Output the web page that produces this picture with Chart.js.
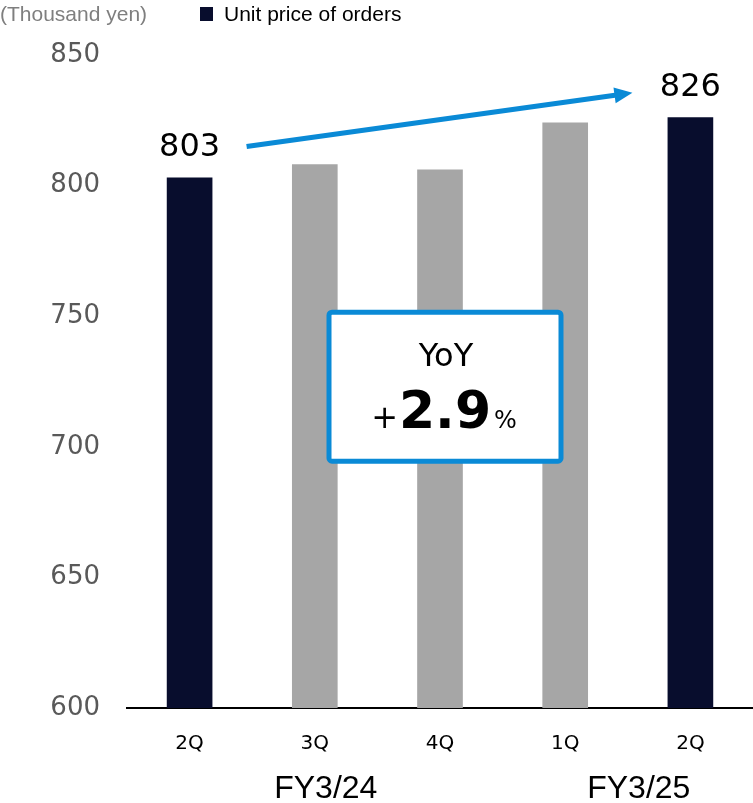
<!DOCTYPE html>
<html lang="en">

<head>
    <meta charset="UTF-8">
    <title>Unit price of orders</title>
    <script src="https://cdn.jsdelivr.net/npm/chart.js"></script>
    <style>
        html, body { margin: 0; padding: 0; background: #fff; }
        #wrap { width: 753px; height: 803px; }
    </style>
</head>

<body>
    <div id="wrap"><canvas id="priceChart"></canvas></div>
    <script>
        // data
        const categories = ['2Q', '3Q', '4Q', '1Q', '2Q'];
        const fiscalYears = ['FY3/24', 'FY3/25'];
        const fiscalYearFirst = [0, 3];
        const fiscalYearLast = [2, 4];
        const unitPrice = [803, 808, 806, 824, 826];
        const highlighted = [true, false, false, false, true];
        const labelled = [0, 4];
        const yMin = 600, yMax = 850, yStep = 50;
        const yoyText = ['YoY', '+', '2.9', '%'];
        const unitText = '(Thousand yen)';
        const seriesName = 'Unit price of orders';

        const NAVY = '#080d2d';
        const GREY = '#a6a6a6';
        const BLUE = '#0a8ad6';

        // legend, value labels, arrow, YoY box, FY labels
        const extras = {
            id: 'extras',
            afterDraw(chart) {
                const c = chart.ctx;
                const x = chart.scales.x, y = chart.scales.y;
                c.save();

                // header
                c.font = '21px "Liberation Sans", Arial, sans-serif';
                c.textBaseline = 'alphabetic';
                c.textAlign = 'left';
                c.fillStyle = '#7f7f7f';
                c.fillText(unitText, 0, 21);
                c.fillStyle = NAVY;
                c.fillRect(200, 7, 13, 14);
                c.fillStyle = '#000';
                c.fillText(seriesName, 224, 21);

                // value labels above highlighted bars
                c.font = '32px "DejaVu Sans", sans-serif';
                c.textAlign = 'center';
                labelled.forEach(i => {
                    c.fillText(unitPrice[i], x.getPixelForValue(i), y.getPixelForValue(unitPrice[i]) - 22);
                });

                // arrow
                const x0 = x.getPixelForValue(0) + 57, y0 = y.getPixelForValue(815);
                const x1 = x.getPixelForValue(4) - 58, y1 = y.getPixelForValue(835.5);
                const ang = Math.atan2(y1 - y0, x1 - x0);
                c.strokeStyle = BLUE;
                c.fillStyle = BLUE;
                c.lineWidth = 5;
                c.beginPath();
                c.moveTo(x0, y0);
                c.lineTo(x1 - 14 * Math.cos(ang), y1 - 14 * Math.sin(ang));
                c.stroke();
                c.beginPath();
                c.moveTo(x1, y1);
                c.lineTo(x1 - 18 * Math.cos(ang) + 8 * Math.sin(ang), y1 - 18 * Math.sin(ang) - 8 * Math.cos(ang));
                c.lineTo(x1 - 18 * Math.cos(ang) - 8 * Math.sin(ang), y1 - 18 * Math.sin(ang) + 8 * Math.cos(ang));
                c.closePath();
                c.fill();

                // YoY box
                const bx = x.getPixelForValue(2) + 5, by = y.getPixelForValue(723);
                const bw = 232, bh = 149;
                c.fillStyle = '#fff';
                c.strokeStyle = BLUE;
                c.lineWidth = 5;
                c.beginPath();
                c.roundRect(bx - bw / 2, by - bh / 2, bw, bh, 3);
                c.fill();
                c.stroke();
                c.fillStyle = '#000';
                c.textAlign = 'center';
                c.font = '32px "DejaVu Sans", sans-serif';
                c.fillText(yoyText[0], bx + 1, by - 21);
                c.font = 'bold 52px "DejaVu Sans", sans-serif';
                const wMid = c.measureText(yoyText[2]).width;
                c.fillText(yoyText[2], bx, by + 41);
                c.font = '32px "DejaVu Sans", sans-serif';
                c.textAlign = 'right';
                c.fillText(yoyText[1], bx - wMid / 2 - 1, by + 41);
                c.font = '24px "DejaVu Sans", sans-serif';
                c.textAlign = 'left';
                c.fillText(yoyText[3], bx + wMid / 2 + 3, by + 41);

                // fiscal year labels
                c.font = '32px "Liberation Sans", Arial, sans-serif';
                c.textAlign = 'center';
                fiscalYears.forEach((fy, k) => {
                    const cx = (x.getPixelForValue(fiscalYearFirst[k]) + x.getPixelForValue(fiscalYearLast[k])) / 2 + 11;
                    c.fillText(fy, cx, 798);
                });
                c.restore();
            }
        };

        const ctx = document.querySelector('#priceChart').getContext('2d');
        const priceChart = new Chart(ctx, {
            type: 'bar',
            data: {
                labels: categories,
                datasets: [{
                    label: seriesName,
                    data: unitPrice,
                    backgroundColor: highlighted.map(h => h ? NAVY : GREY),
                    barThickness: 45
                }]
            },
            options: {
                responsive: true,
                maintainAspectRatio: false,
                animation: false,
                layout: { padding: { top: 55, right: 0, left: 0, bottom: 0 } },
                plugins: {
                    legend: { display: false },
                    tooltip: { enabled: false }
                },
                scales: {
                    x: {
                        grid: { display: false },
                        border: { display: true, color: '#000', width: 2 },
                        ticks: {
                            color: '#000',
                            padding: 16,
                            font: { family: 'DejaVu Sans', size: 20 }
                        },
                        afterFit(s) { s.height = 95; }
                    },
                    y: {
                        min: yMin,
                        max: yMax,
                        grid: { display: false, drawTicks: false },
                        border: { display: false },
                        ticks: {
                            stepSize: yStep,
                            color: '#595959',
                            padding: 27,
                            font: { family: 'DejaVu Sans', size: 26 }
                        },
                        afterFit(s) { s.width = 127; }
                    }
                }
            },
            plugins: [extras]
        });
    </script>
</body>

</html>
